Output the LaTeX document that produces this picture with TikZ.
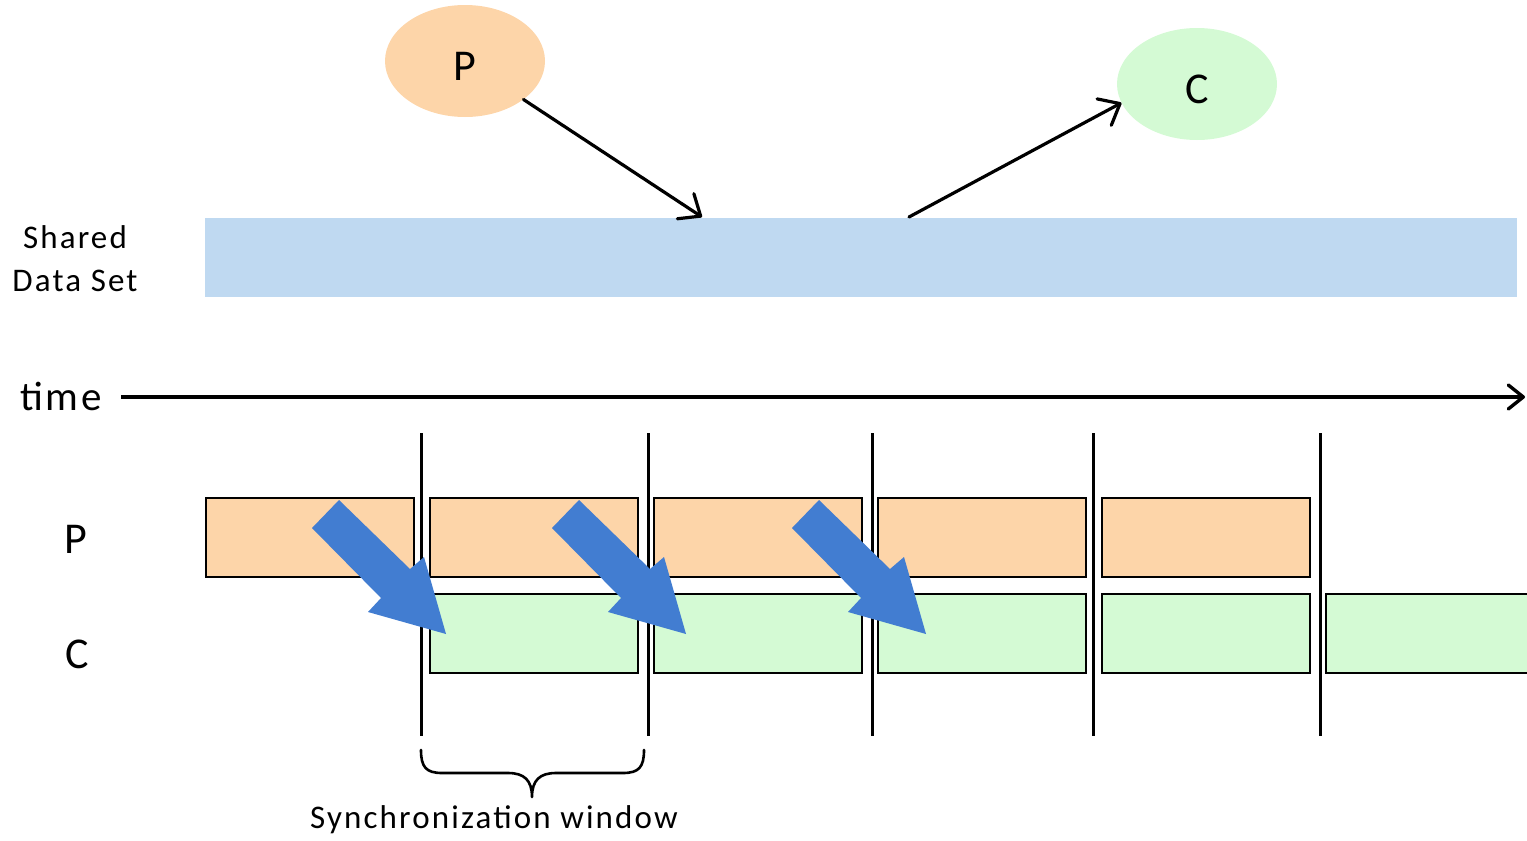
\documentclass[tikz,border=0pt]{standalone}
\usepackage{fontspec}
\setmainfont{Carlito}
\newfontfamily\widefont[LetterSpace=6.5]{Carlito}
\usetikzlibrary{arrows.meta,shapes.geometric}
\definecolor{peach}{HTML}{FDD5A9}
\definecolor{mint}{HTML}{D4FAD4}
\definecolor{sky}{HTML}{BFD9F1}
\definecolor{flowblue}{HTML}{427DD1}
\begin{document}
\begin{tikzpicture}[x=1pt,y=-1pt,
  actor/.style={ellipse, minimum width=160pt, minimum height=112pt, inner sep=0pt,
    font=\fontsize{44}{50}\selectfont, text height=38pt, text depth=0pt},
  slot/.style={draw=black, line width=2.2pt, minimum width=208pt, minimum height=79pt,
    inner sep=0pt, anchor=north west},
  pslot/.style={slot, fill=peach},
  cslot/.style={slot, fill=mint},
  barb/.style={-{Straight Barb[length=18pt,width=30pt,line cap=round,line join=round]},
    line width=3.2pt, line cap=round},
  tick/.style={line width=3pt},
  biglabel/.style={font=\fontsize{44}{50}\selectfont},
]
\useasboundingbox (0,0) rectangle (1527,841);
\clip (0,0) rectangle (1527,841);

% processes writing to / reading from the shared data
\node[actor, fill=peach] (prod) at (465,61) {P};
\node[actor, fill=mint] (cons) at (1197,84) {C};

\node[fill=sky, minimum width=1312pt, minimum height=79pt, inner sep=0pt, anchor=north west]
  (data) at (205,218) {};
\node[align=center, font=\widefont\fontsize{33}{43}\selectfont] (datalbl) at (75,259) {Shared\\Data Set};

\coordinate (wr) at (702,217);
\coordinate (rd) at (909,217);
\draw[barb] (prod) -- (wr);
\draw[barb] (rd) -- (cons.194);

% time axis
\node[font=\widefont\fontsize{41}{50}\selectfont] (time) at (61,396) {time};
\coordinate (t0) at (121,397);
\coordinate (t1) at (1525,397);
\draw[-{Straight Barb[length=15pt,width=24pt,line cap=round,line join=round]},
  line width=3.4pt] (t0) -- (t1);

% row labels
\node[biglabel] (plbl) at (76,539) {P};
\node[biglabel] (clbl) at (77,654) {C};

% producer slots
\node[pslot] (p1) at (205,497) {};
\node[pslot] (p2) at (429,497) {};
\node[pslot] (p3) at (653,497) {};
\node[pslot] (p4) at (877,497) {};
\node[pslot] (p5) at (1101,497) {};

% consumer slots
\node[cslot] (c1) at (429,593) {};
\node[cslot] (c2) at (653,593) {};
\node[cslot] (c3) at (877,593) {};
\node[cslot] (c4) at (1101,593) {};
\node[cslot, minimum width=230pt] (c5) at (1325,593) {};

% synchronization points
\foreach \x in {421,648,872,1093,1320}
  \draw[tick] (\x,433) -- (\x,736);

% hand-over arrows
\foreach \d in {0,240,480}
  \fill[flowblue, shift={(\d,0)}]
    (339,500) -- (410,569) -- (424,557) -- (446,634) -- (368,612) -- (381,598) -- (312,528) -- cycle;

% window brace
\draw[line width=2.6pt, line cap=round, line join=round]
  (421,750) .. controls (421,767) and (426,773) .. (442,773) -- (508,773)
  .. controls (524,773) and (532,780) .. (532,797)
  .. controls (532,780) and (540,773) .. (556,773) -- (623,773)
  .. controls (639,773) and (644,767) .. (644,750);
\node[font=\widefont\fontsize{33}{38}\selectfont] (winlbl) at (494,820) {Synchronization window};
\end{tikzpicture}
\end{document}
